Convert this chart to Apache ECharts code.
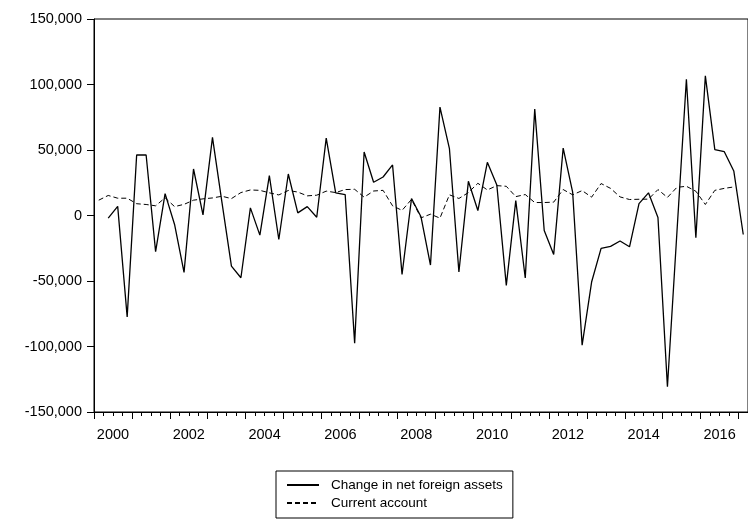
<!DOCTYPE html>
<html>
<head>
<meta charset="utf-8">
<style>
html,body{margin:0;padding:0;background:#fff;}
#chart{width:748px;height:519px;}
</style>
<script src="https://cdn.jsdelivr.net/npm/echarts@6/dist/echarts.min.js"></script>
</head>
<body>
<div id="chart"></div>
<script>
// Quarterly observations 2000Q1 .. 2017Q1
var firstYear = 2000;
var quarterCount = 69;
var yearLabels = ['2000','2002','2004','2006','2008','2010','2012','2014','2016'];
var yTicks = [-150000,-100000,-50000,0,50000,100000,150000];

var changeNFA = [null,
  -2000, 7000, -77400, 46200, 46200, -27600, 16700, -6850,
  -43400, 35500, 500, 59600, 10000, -38600, -47500, 5800,
  -15000, 30500, -18300, 31700, 2000, 6800, -1300, 59100,
  17300, 16000, -97400, 48500, 25400, 29400, 38600, -44900,
  13000, -1000, -37800, 82700, 51000, -43100, 26100, 3800,
  40600, 23300, -53300, 11400, -47700, 81200, -11400, -29700,
  51500, 17800, -99000, -50800, -25100, -23600, -19500, -23900,
  9100, 17300, -1500, -130700, -13000, 104000, -17000, 106600,
  50300, 48700, 34000, -14500];

var currentAccount = [
  11700, 15300, 13200, 13200, 9000, 8400, 7400, 13500,
  6800, 8500, 11700, 12700, 13400, 14700, 12900, 17500,
  19500, 19200, 17300, 15700, 19100, 17900, 15000, 15500,
  18600, 17500, 19800, 20000, 14000, 18700, 19200, 7400,
  3900, 12300, -1800, 1000, -2000, 15800, 13000, 17500,
  24600, 19500, 22800, 22300, 14400, 16000, 9900, 9900,
  10200, 19800, 15800, 19000, 14000, 24400, 20700, 14200,
  12200, 12400, 12500, 19800, 13800, 21500, 22300, 18500,
  8400, 19200, 20700, 21800];

var categories = [];
for (var i = 0; i < quarterCount; i++) {
  categories.push((firstYear + Math.floor(i / 4)) + 'Q' + (i % 4 + 1));
}
var majorTickPos = [];
for (var j = 0; j <= quarterCount; j += 4) majorTickPos.push(j);
var labelPos = yearLabels.map(function (l, idx) { return 2 + idx * 8; });

var FONT = '"Liberation Sans", Arial, Helvetica, sans-serif';
var chart = echarts.init(document.getElementById('chart'), null, {renderer: 'canvas'});
chart.setOption({
  animation: false,
  backgroundColor: '#fff',
  grid: {left: 94, top: 19, width: 658.3, height: 393, show: true, borderColor: '#000', borderWidth: 1, backgroundColor: 'transparent'},
  legend: {
    orient: 'vertical', left: 276, top: 471,
    itemWidth: 32, itemHeight: 14, itemGap: 4,
    padding: [7, 10, 8, 10],
    borderColor: '#000', borderWidth: 1, backgroundColor: '#fff',
    itemStyle: {opacity: 0},
    textStyle: {fontFamily: FONT, fontSize: 13.5, color: '#000', padding: [0, 0, 0, 7]},
    data: ['Change in net foreign assets', 'Current account']
  },
  xAxis: [{
    type: 'category', data: categories, boundaryGap: true,
    axisLine: {onZero: false, lineStyle: {color: '#000', width: 1}},
    axisTick: {show: true, interval: 0, length: 4, inside: false, lineStyle: {color: '#000'}},
    axisLabel: {show: false},
    splitLine: {show: false}
  }, {
    type: 'value', min: 0, max: quarterCount, position: 'bottom',
    axisLine: {show: false, onZero: false},
    axisTick: {show: true, length: 7, inside: false, customValues: majorTickPos, lineStyle: {color: '#000'}},
    axisLabel: {show: true, customValues: labelPos, margin: 15, fontFamily: FONT, fontSize: 14.5, color: '#000',
      formatter: function (v) { var idx = Math.round((v - 2) / 8); return yearLabels[idx] || ''; }},
    splitLine: {show: false}
  }],
  yAxis: {
    type: 'value', min: yTicks[0], max: yTicks[yTicks.length - 1], interval: 50000,
    axisLine: {show: true, lineStyle: {color: '#000'}},
    axisTick: {show: true, length: 7, inside: false, lineStyle: {color: '#000'}},
    axisLabel: {margin: 12, fontFamily: FONT, fontSize: 14.5, color: '#000',
      formatter: function (v) { return String(v).replace(/\B(?=(\d{3})+(?!\d))/g, ','); }},
    splitLine: {show: false}
  },
  series: [{
    name: 'Change in net foreign assets', type: 'line', xAxisIndex: 0, data: changeNFA,
    showSymbol: false, symbol: 'none', connectNulls: false,
    lineStyle: {color: '#000', width: 1.3, type: 'solid'}, itemStyle: {color: '#000'}
  }, {
    name: 'Current account', type: 'line', xAxisIndex: 0, data: currentAccount,
    showSymbol: false, symbol: 'none',
    lineStyle: {color: '#000', width: 1, type: [5, 3]}, itemStyle: {color: '#000'}
  }]
});
</script>
</body>
</html>
